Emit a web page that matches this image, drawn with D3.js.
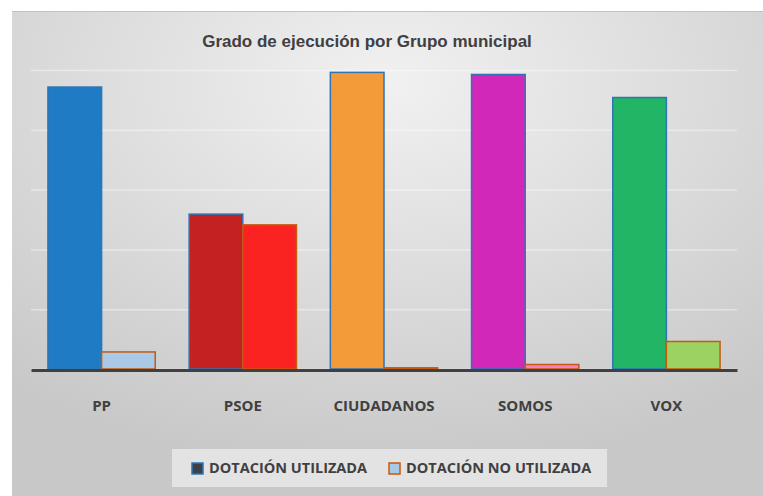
<!DOCTYPE html>
<html>
<head>
<meta charset="utf-8">
<script src="https://cdn.jsdelivr.net/npm/d3@7"></script>
<style>
  body { margin: 0; background: #fff; }
  svg { display: block; }
</style>
</head>
<body>
<div id="chart"></div>
<script>
// Grado de ejecución (%) por grupo municipal
const grupos = ["PP", "PSOE", "CIUDADANOS", "SOMOS", "VOX"];
const utilizada = [94.3, 51.8, 99.2, 98.5, 90.8];
const noUtilizada = [5.7, 48.2, 0.4, 1.5, 9.2];
const coloresUtil = ["#1f7bc3", "#c42222", "#f29b38", "#d128b9", "#22b566"];
const coloresNoUtil = ["#a9c9e6", "#fb2222", "#f29b38", "#f37fc7", "#9cd262"];
const series = ["DOTACIÓN UTILIZADA", "DOTACIÓN NO UTILIZADA"];
const yTicks = [0, 20, 40, 60, 80, 100];

const width = 763, height = 496;
const margin = {top: 70, right: 26, bottom: 127, left: 31};

const svg = d3.select("#chart")
  .append("svg")
  .attr("width", width)
  .attr("height", height);

const defs = svg.append("defs");
const grad = defs.append("radialGradient")
  .attr("id", "bg")
  .attr("cx", "50%").attr("cy", "15%").attr("r", "80%");
grad.append("stop").attr("offset", "0%").attr("stop-color", "#f1f1f1");
grad.append("stop").attr("offset", "100%").attr("stop-color", "#c8c8c8");

// fondo del gráfico
svg.append("rect")
  .attr("x", 12).attr("y", 11)
  .attr("width", width - 12).attr("height", height - 11)
  .attr("fill", "url(#bg)");
svg.append("line")
  .attr("x1", 12).attr("x2", width).attr("y1", 11.5).attr("y2", 11.5)
  .attr("stroke", "#c2c2c2");

const data = grupos.map((g, i) => ({grupo: g, util: utilizada[i], noUtil: noUtilizada[i], i}));

const x0 = d3.scaleBand(grupos, [margin.left, width - margin.right])
  .paddingInner(0.24)
  .paddingOuter(0.12);

const x1 = d3.scaleBand(["util", "noUtil"], [0, x0.bandwidth()]);

const y = d3.scaleLinear([0, 100], [height - margin.bottom, margin.top]);

// rejilla
svg.append("g")
  .attr("transform", `translate(${margin.left},0)`)
  .call(d3.axisLeft(y).tickValues(yTicks).tickSize(-(width - margin.left - margin.right)).tickFormat(""))
  .call(g => g.select(".domain").remove())
  .call(g => g.selectAll(".tick line").attr("stroke", "rgba(255,255,255,0.4)").attr("stroke-width", 1.5));

// barras
const grp = svg.append("g")
  .selectAll("g")
  .data(data)
  .join("g")
  .attr("transform", d => `translate(${x0(d.grupo)},0)`);

grp.append("rect")
  .attr("x", x1("util"))
  .attr("y", d => y(d.util))
  .attr("width", x1.bandwidth())
  .attr("height", d => y(0) - y(d.util))
  .attr("fill", d => coloresUtil[d.i])
  .attr("stroke", "#2e75b6")
  .attr("stroke-width", 1.5);

grp.append("rect")
  .attr("x", x1("noUtil"))
  .attr("y", d => y(d.noUtil))
  .attr("width", x1.bandwidth())
  .attr("height", d => y(0) - y(d.noUtil))
  .attr("fill", d => coloresNoUtil[d.i])
  .attr("stroke", "#c55a11")
  .attr("stroke-width", 1.5);

// eje x
svg.append("g")
  .attr("transform", `translate(0,${y(0) + 1})`)
  .call(d3.axisBottom(x0).tickSize(0).tickPadding(30))
  .call(g => g.select(".domain").attr("stroke", "#404040").attr("stroke-width", 3))
  .call(g => g.selectAll("text")
    .attr("fill", "#404040")
    .style("font-family", "'Open Sans', sans-serif")
    .style("font-weight", "bold")
    .style("font-size", "15px"));

// título
svg.append("text")
  .attr("x", 367)
  .attr("y", 47)
  .attr("text-anchor", "middle")
  .attr("fill", "#404040")
  .style("font-family", "'Liberation Sans', Arial, sans-serif")
  .style("font-weight", "bold")
  .style("font-size", "17px")
  .text("Grado de ejecución por Grupo municipal");

// leyenda
svg.append("rect")
  .attr("x", 172).attr("y", 449)
  .attr("width", 435).attr("height", 38)
  .attr("fill", "#e3e3e3");

const legX = [192, 389];
const legFill = ["#3c4049", "#a9c9e6"];
const legStroke = ["#2e75b6", "#c55a11"];

const leg = svg.selectAll(".legend-group")
  .data(series)
  .join("g")
  .attr("class", "legend-group");

leg.append("rect")
  .attr("x", (d, i) => legX[i])
  .attr("y", 463)
  .attr("width", 11)
  .attr("height", 11)
  .attr("fill", (d, i) => legFill[i])
  .attr("stroke", (d, i) => legStroke[i])
  .attr("stroke-width", 1.5);

leg.append("text")
  .attr("x", (d, i) => legX[i] + 17)
  .attr("y", 473)
  .attr("fill", "#404040")
  .style("font-family", "'Open Sans', sans-serif")
  .style("font-weight", "bold")
  .style("font-size", "14.5px")
  .text(d => d);
</script>
</body>
</html>
